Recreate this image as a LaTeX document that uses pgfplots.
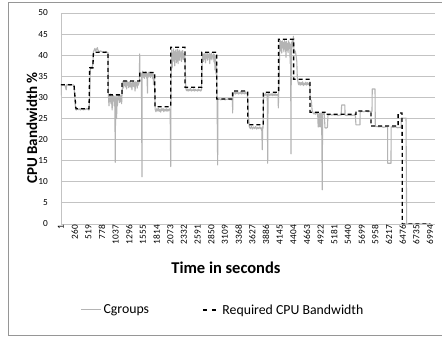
\documentclass[border=0pt]{standalone}
\usepackage{fontspec}
\setmainfont{Carlito}
\usepackage{pgfplots}
\pgfplotsset{compat=1.18}
\definecolor{cgray}{RGB}{180,180,180}
\definecolor{gridc}{RGB}{195,195,195}
\definecolor{framec}{RGB}{150,150,150}

\begin{document}
\begin{tikzpicture}
% page: 442pt x 339pt, origin at the lower left corner of the plot area
\useasboundingbox (-61pt,-115pt) rectangle (381pt,224pt);
\fill[white] (-61pt,-115pt) rectangle (381pt,224pt);
\draw[framec, line width=0.8pt] (382pt,221.5pt) -- (-52.5pt,221.5pt) -- (-52.5pt,-111.5pt) -- (382pt,-111.5pt);
\begin{axis}[
  at={(0pt,0pt)}, anchor=south west,
  scale only axis, width=374pt, height=211pt,
  xmin=1, xmax=7089, ymin=0, ymax=50,
  axis x line*=bottom, axis y line*=left,
  axis line style={gridc, line width=0.8pt},
  ymajorgrids, grid style={gridc, line width=0.8pt},
  major tick length=0pt,
  xtick={1,260,519,778,1037,1296,1555,1814,2073,2332,2591,2850,3109,3368,3627,3886,4145,4404,4663,4922,5181,5440,5699,5958,6217,6476,6735,6994},
  xticklabels={1,260,519,778,1037,1296,1555,1814,2073,2332,2591,2850,3109,3368,3627,3886,4145,4404,4663,4922,5181,5440,5699,5958,6217,6476,6735,6994},
  ytick={0,5,...,50},
  /pgf/number format/assume math mode=true,
  xticklabel style={rotate=90, anchor=east, font=\fontsize{9.3}{10}\selectfont, inner sep=0pt, xshift=-1pt},
  yticklabel style={anchor=east, font=\fontsize{9.3}{10}\selectfont, inner sep=0pt, xshift=-13pt},
  xlabel={\textbf{Time in seconds}},
  ylabel={\textbf{CPU Bandwidth \%}},
  xlabel style={font=\fontsize{16.5}{18}\selectfont, at={(axis description cs:0.441,-0.2085)}, anchor=center},
  ylabel style={font=\fontsize{15}{17}\selectfont, at={(axis description cs:-0.0775,0.455)}, anchor=center},
  legend columns=2,
  legend style={draw=none, fill=none, at={(axis description cs:0.433,-0.4076)}, anchor=center,
    font=\fontsize{13.8}{16}\selectfont, inner sep=0pt},
  legend cell align=left,
  /tikz/every even column/.append style={column sep=51pt},
]
% measured bandwidth under cgroups
\addplot[cgray, line width=1.1pt, line join=round,
  legend image code/.code={\draw[cgray, line width=1pt] (0pt,0pt) -- (20pt,0pt);}]
coordinates {
(1,30.5) (5,32.8) (20,33.0) (40,32.9) (60,33.1) (80,32.7) (100,31.8) (110,33.0) (130,32.9) (150,33.1) (170,32.8) (190,33.0) (210,32.9) (230,33.0) (247,32.8)
(260,30.5) (275,27.5)
(290,27.0) (310,27.4) (330,27.1) (350,27.3) (370,27.0) (390,27.4) (410,27.2) (430,27.0) (450,27.3) (470,27.1) (490,27.4) (510,27.2) (530,27.0)
(545,30.0) (555,36.5) (570,37.2) (590,37.0) (605,38.0) (616,40.8) (630,41.2) (645,41.6) (660,41.0) (675,41.4) (690,41.8) (700,41.2) (715,41.0) (730,40.8) (750,41.0) (770,40.9) (790,40.7) (810,40.8) (830,40.6) (850,40.9) (870,40.7) (892,40.6)
(900,30.5) (910,28.0) (920,30.5) (930,29.0) (940,30.8) (950,28.5) (960,30.2) (970,27.0) (980,30.6) (990,29.2) (1000,30.4) (1010,28.0) (1020,30.1) (1030,14.6) (1035,29.5) (1045,30.3) (1055,25.0) (1062,29.8) (1070,28.0) (1080,30.7) (1090,29.4) (1100,30.5) (1110,28.8) (1120,30.6) (1130,29.0) (1140,30.4) (1150,28.5) (1157,30.6)
(1165,32.5) (1175,33.8) (1185,32.2) (1195,33.5) (1205,32.8) (1215,34.0) (1225,32.5) (1235,33.6) (1245,32.0) (1255,33.8) (1265,32.9) (1275,33.5) (1285,32.3) (1295,33.7) (1305,32.6) (1315,33.9) (1325,32.4) (1335,33.4) (1345,31.8) (1355,33.6) (1365,32.7) (1375,33.8) (1385,32.5) (1395,33.5) (1405,31.5) (1415,33.7) (1425,32.8) (1435,33.6) (1445,32.2) (1455,33.5) (1465,32.9) (1475,33.3) (1485,33.8) (1492,40.3) (1498,35.0) (1510,35.8) (1525,35.2) (1536,11.2) (1540,35.5)
(1550,36.2) (1560,34.8) (1570,35.9) (1580,34.5) (1590,36.0) (1600,35.0) (1610,36.1) (1620,34.6) (1630,35.8) (1640,31.0) (1645,35.5) (1655,34.8) (1665,36.0) (1675,35.2) (1685,35.9) (1695,34.7) (1705,36.0) (1715,35.1) (1725,35.8) (1735,34.5) (1745,35.6) (1755,33.0) (1762,35.4) (1772,34.8)
(1785,27.2) (1800,26.6) (1815,27.3) (1830,26.8) (1845,27.4) (1860,26.7) (1875,27.2) (1890,26.5) (1905,27.3) (1920,26.9) (1935,27.4) (1950,26.6) (1965,27.2) (1980,26.8) (1995,27.3) (2010,26.7) (2025,27.2) (2040,26.8) (2055,27.3) (2070,26.9) (2080,13.6) (2085,30.0)
(2092,38.0) (2100,41.2) (2108,37.0) (2116,40.5) (2124,38.5) (2132,41.5) (2140,39.0) (2148,40.8) (2156,37.5) (2164,41.0) (2172,39.5) (2180,41.3) (2188,38.2) (2196,40.6) (2204,39.2) (2212,41.4) (2220,38.0) (2228,40.9) (2236,39.6) (2244,41.2) (2252,38.8) (2260,40.5) (2268,39.8) (2276,41.0) (2284,38.5) (2292,40.7) (2300,39.4) (2308,41.1) (2316,39.0) (2324,40.4) (2332,38.9) (2340,40.2) (2350,39.5) (2358,36.0)
(2366,32.2) (2380,31.6) (2395,32.0) (2410,31.5) (2425,31.9) (2440,31.6) (2455,32.1) (2470,31.5) (2485,31.8) (2500,31.6) (2515,32.0) (2530,31.5) (2545,31.9) (2560,31.6) (2575,31.8) (2590,31.5) (2605,32.0) (2620,31.6) (2635,31.8) (2650,31.5) (2665,31.9) (2672,36.0)
(2680,39.5) (2690,40.4) (2700,38.5) (2710,40.2) (2720,39.0) (2730,40.5) (2740,38.2) (2750,40.0) (2760,39.3) (2770,40.6) (2780,38.8) (2790,40.1) (2800,39.5) (2810,40.4) (2820,38.0) (2830,40.2) (2840,39.2) (2850,40.5) (2860,38.9) (2870,40.0) (2880,39.6) (2890,40.3) (2900,38.4) (2910,40.1) (2920,36.5) (2930,39.8) (2940,35.5) (2950,38.5) (2958,31.0) (2970,14.0) (2975,29.6)
(2990,29.5) (3010,29.7) (3030,29.4) (3050,29.6) (3070,29.5) (3090,29.7) (3110,29.4) (3130,29.6) (3150,29.5) (3170,29.7) (3190,29.5) (3210,29.6) (3230,29.4) (3250,29.5) (3254,26.3) (3260,30.5)
(3275,31.0) (3290,31.3) (3305,30.8) (3320,31.2) (3335,30.9) (3350,31.3) (3365,30.8) (3380,31.1) (3395,30.9) (3410,31.4) (3425,30.8) (3440,31.2) (3455,30.9) (3470,31.1) (3485,30.8) (3500,31.3) (3515,30.9) (3530,31.0) (3545,28.5) (3555,25.5)
(3570,23.0) (3590,22.6) (3610,23.1) (3630,22.5) (3650,23.0) (3670,22.6) (3690,23.1) (3710,22.5) (3730,22.9) (3750,22.6) (3770,23.0) (3790,22.5) (3805,22.8) (3816,17.6) (3822,23.0) (3832,22.7) (3840,30.5)
(3850,30.8) (3865,30.4) (3880,30.9) (3895,30.5) (3910,30.8) (3918,14.4) (3925,30.6) (3940,30.9) (3955,30.4) (3970,30.8) (3985,30.5) (4000,30.9) (4015,30.4) (4030,30.8) (4045,30.5) (4060,30.9) (4075,30.4) (4090,30.7) (4105,30.5) (4115,30.8) (4120,27.5) (4128,32.0) (4135,34.0)
(4145,42.0) (4155,43.5) (4165,41.0) (4175,43.2) (4185,40.5) (4195,43.4) (4205,41.8) (4215,43.0) (4225,40.8) (4235,43.5) (4245,41.5) (4255,43.1) (4265,39.5) (4275,43.3) (4285,41.2) (4295,42.8) (4305,40.6) (4315,43.4) (4325,41.6) (4335,42.9) (4345,38.0) (4352,42.5) (4360,16.6) (4366,43.0) (4375,41.4) (4385,43.6) (4395,42.0) (4405,44.5) (4415,41.5) (4425,40.5) (4440,41.0) (4455,40.0) (4470,38.5) (4480,34.5)
(4490,33.8) (4505,33.0) (4520,33.6) (4535,32.9) (4550,33.5) (4565,33.0) (4580,33.7) (4595,32.8) (4610,33.4) (4625,33.0) (4640,33.6) (4655,32.9) (4670,33.5) (4685,33.0) (4700,33.4) (4715,33.0) (4725,29.5) (4745,29.3) (4760,27.0)
(4775,26.4) (4790,26.1) (4805,26.3) (4820,26.0) (4835,26.4) (4850,26.1) (4865,26.3) (4875,23.0) (4890,23.0) (4895,26.2) (4905,26.0) (4915,23.0) (4925,26.3) (4940,26.1) (4953,8.1) (4958,26.2) (4975,26.0) (4990,26.3) (5004,22.8) (5025,22.7) (5050,22.9) (5061,25.9)
(5080,25.8) (5100,26.0) (5130,25.8) (5160,25.9) (5190,25.8) (5220,25.9) (5250,25.7) (5280,25.8) (5310,25.8) (5320,28.2) (5380,28.2) (5385,25.8) (5420,25.7) (5460,25.8) (5500,25.7) (5540,25.8) (5580,25.7) (5591,23.5) (5667,23.5) (5670,26.5)
(5700,26.7) (5740,26.6) (5780,26.8) (5820,26.6) (5860,26.7) (5895,26.7) (5900,32.0) (5952,32.0) (5958,23.1)
(5990,23.1) (6030,23.0) (6070,23.1) (6110,22.9) (6150,23.0) (6190,23.0) (6192,14.4) (6255,14.4) (6258,23.0) (6300,22.9) (6340,23.0) (6380,22.8) (6420,22.9) (6445,22.8) (6450,25.1) (6540,25.1) (6552,0) (7000,0)
};
\addlegendentry{Cgroups}
% requested bandwidth schedule
\addplot[black, line width=1.3pt, dash pattern=on 4pt off 3pt,
  legend image code/.code={\draw[black, line width=1.3pt, dash pattern=on 4pt off 5pt] (0pt,0pt) -- (17pt,0pt);}]
coordinates {
(1,33) (247,33) (285,27.3) (532,27.3) (545,37.0) (605,37.0) (616,40.7) (892,40.7) (892,30.6) (1157,30.6) (1157,33.9) (1492,33.9) (1492,35.9) (1777,35.9) (1783,27.8) (2080,27.8) (2080,41.9) (2351,41.9) (2351,32.4) (2667,32.4) (2667,40.7) (2951,40.7) (2951,29.6) (3254,29.6) (3254,31.5) (3539,31.5) (3539,23.5) (3835,23.5) (3835,31.2) (4125,31.2) (4125,43.8) (4410,43.8) (4410,34.3) (4720,34.3) (4720,26.5) (5004,26.5) (5004,26.0) (5591,26.0) (5591,26.8) (5875,26.8) (5875,23.2) (6390,23.2) (6390,26.3) (6465,26.3) (6470,0) (7000,0)
};
\addlegendentry{Required CPU Bandwidth}
\end{axis}
\end{tikzpicture}
\end{document}
